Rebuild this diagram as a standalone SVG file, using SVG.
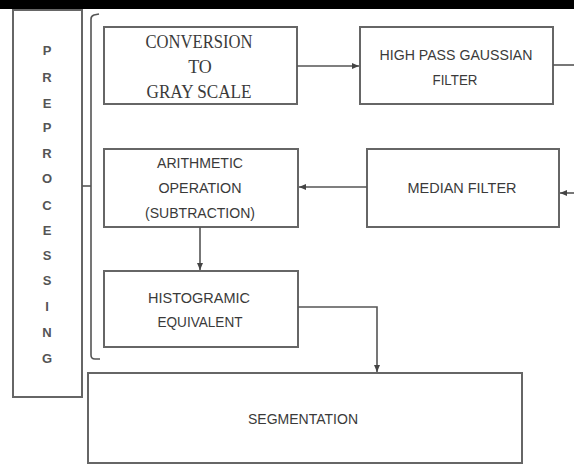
<svg xmlns="http://www.w3.org/2000/svg" width="574" height="465" viewBox="0 0 574 465">
<defs>
<style>
.box{fill:#fff;stroke:#666;stroke-width:2}
.ln{fill:none;stroke:#555;stroke-width:1.6}
.s{font-family:"Liberation Sans",Arial,sans-serif;font-size:15px;fill:#3a3a3a;text-anchor:middle}
.r{font-family:"Liberation Serif","Times New Roman",serif;font-size:18px;fill:#3a3a3a;text-anchor:middle}
.v{font-family:"Liberation Sans",Arial,sans-serif;font-size:13px;font-weight:bold;fill:#555;text-anchor:middle}
</style>
<marker id="ah" markerWidth="8" markerHeight="8" refX="7" refY="4" orient="auto" markerUnits="userSpaceOnUse">
<path d="M0,1 L7,4 L0,7 Z" fill="#444"/>
</marker>
</defs>
<rect x="0" y="0" width="574" height="465" fill="#fff"/>
<rect x="0" y="0" width="574" height="9" fill="#000"/>

<g id="preprocessing">
<rect class="box" x="13" y="10" width="69" height="387"/>
<text class="v" x="47" y="55">P</text>
<text class="v" x="47" y="82">R</text>
<text class="v" x="47" y="108">E</text>
<text class="v" x="47" y="132">P</text>
<text class="v" x="47" y="158">R</text>
<text class="v" x="47" y="183">O</text>
<text class="v" x="47" y="210">C</text>
<text class="v" x="47" y="235">E</text>
<text class="v" x="47" y="260">S</text>
<text class="v" x="47" y="285">S</text>
<text class="v" x="47" y="311">I</text>
<text class="v" x="47" y="337">N</text>
<text class="v" x="47" y="363">G</text>
</g>

<g id="bracket">
<path class="ln" d="M99,14 L94,15 Q91,16 91,19 L91,355 Q91,359 95,359 L100,359"/>
<path class="ln" d="M82,186 L91,186"/>
</g>

<g id="conversion">
<rect class="box" x="104" y="27" width="193" height="77"/>
<text class="r" x="199" y="48" textLength="107" lengthAdjust="spacingAndGlyphs">CONVERSION</text>
<text class="r" x="200" y="73">TO</text>
<text class="r" x="199" y="98" textLength="105" lengthAdjust="spacingAndGlyphs">GRAY SCALE</text>
</g>

<g id="highpass">
<rect class="box" x="360" y="27" width="193" height="77"/>
<text class="s" x="456" y="60" textLength="153" lengthAdjust="spacingAndGlyphs">HIGH PASS GAUSSIAN</text>
<text class="s" x="455" y="85" textLength="45" lengthAdjust="spacingAndGlyphs">FILTER</text>
</g>

<g id="arithmetic">
<rect class="box" x="104" y="149" width="194" height="78"/>
<text class="s" x="200" y="168" textLength="86" lengthAdjust="spacingAndGlyphs">ARITHMETIC</text>
<text class="s" x="200" y="193" textLength="83" lengthAdjust="spacingAndGlyphs">OPERATION</text>
<text class="s" x="200" y="218" textLength="110" lengthAdjust="spacingAndGlyphs">(SUBTRACTION)</text>
</g>

<g id="median">
<rect class="box" x="367" y="149" width="192" height="78"/>
<text class="s" x="462" y="193" textLength="109" lengthAdjust="spacingAndGlyphs">MEDIAN FILTER</text>
</g>

<g id="histogram">
<rect class="box" x="104" y="271" width="194" height="76"/>
<text class="s" x="199" y="303" textLength="102" lengthAdjust="spacingAndGlyphs">HISTOGRAMIC</text>
<text class="s" x="200" y="327" textLength="85" lengthAdjust="spacingAndGlyphs">EQUIVALENT</text>
</g>

<g id="segmentation">
<rect class="box" x="88" y="373" width="434" height="90"/>
<text class="s" x="303" y="424" textLength="110" lengthAdjust="spacingAndGlyphs">SEGMENTATION</text>
</g>

<g id="connectors">
<path class="ln" d="M297,66 L359,66" marker-end="url(#ah)"/>
<path class="ln" d="M553,65 L574,65"/>
<path class="ln" d="M574,193 L560,193" marker-end="url(#ah)"/>
<path class="ln" d="M367,187 L299,187" marker-end="url(#ah)"/>
<path class="ln" d="M200,227 L200,270" marker-end="url(#ah)"/>
<path class="ln" d="M298,307 L377,307 L377,372" marker-end="url(#ah)"/>
</g>
</svg>
